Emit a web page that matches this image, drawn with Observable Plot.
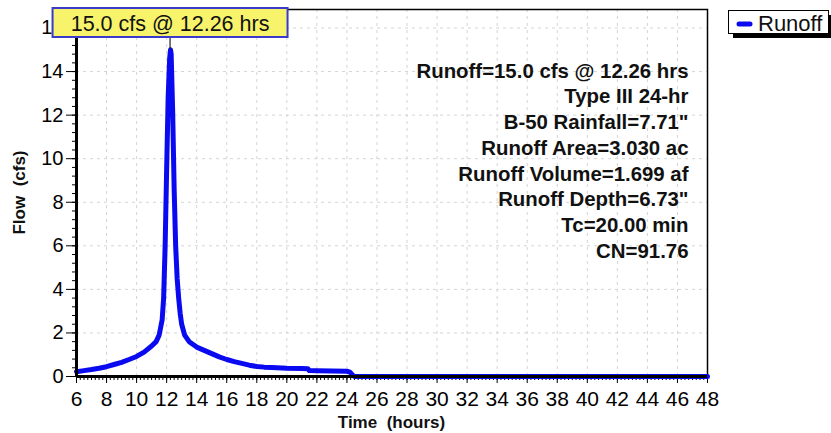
<!DOCTYPE html>
<html>
<head>
<meta charset="utf-8">
<script src="https://cdn.jsdelivr.net/npm/d3@7"></script>
<script src="https://cdn.jsdelivr.net/npm/@observablehq/plot@0.6"></script>
<style>
  body { margin: 0; background: white; }
  #chart svg { display: block; }
</style>
</head>
<body>
<div id="chart"></div>
<script>
// ---- data ----
const timeHrs = [6,6.5,7,7.5,8,8.5,9,9.5,10,10.5,11,11.3,11.5,11.7,11.8,11.9,12.0,12.1,12.2,12.26,12.3,12.4,12.5,12.6,12.7,12.8,12.9,13.0,13.2,13.5,14,14.5,15,15.5,16,16.5,17,17.5,18,18.5,19,20,21,21.4,21.5,22,23,24,24.2,24.4,24.5,30,36,42,48];
const flowCfs = [0.22,0.27,0.32,0.38,0.45,0.55,0.65,0.78,0.92,1.12,1.4,1.6,1.9,2.6,3.6,6.0,9.5,12.8,14.6,15.0,14.8,12.2,8.6,6.0,4.5,3.6,2.9,2.4,1.9,1.6,1.35,1.2,1.05,0.9,0.78,0.68,0.6,0.52,0.46,0.43,0.41,0.38,0.37,0.36,0.27,0.26,0.25,0.24,0.2,0.05,0,0,0,0,0];
const xTicks = [6,8,10,12,14,16,18,20,22,24,26,28,30,32,34,36,38,40,42,44,46,48];
const yTicks = [0,2,4,6,8,10,12,14,16];
const xDomain = [6, 48];
const yDomain = [0, 16.85];
const peakTime = 12.26;
const peakFlow = 15.0;
const peakLabel = "15.0 cfs @ 12.26 hrs";
const statsLines = [
  "Runoff=15.0 cfs @ 12.26 hrs",
  "Type III 24-hr",
  "B-50 Rainfall=7.71\"",
  "Runoff Area=3.030 ac",
  "Runoff Volume=1.699 af",
  "Runoff Depth=6.73\"",
  "Tc=20.00 min",
  "CN=91.76"
];
const seriesName = "Runoff";
const xTitle = "Time  (hours)";
const yTitle = "Flow  (cfs)";

const data = timeHrs.map((t, i) => ({t, q: flowCfs[i]}));
const minorX = d3.range(6, 48.001, 0.25);
const minorY = d3.range(0, 16.85, 0.4);
const innerX = xTicks.slice(1, -1);
const innerY = yTicks.slice(1);
const blue = "#0a0af0";
const font = "'Liberation Sans', Arial, sans-serif";

const plot = Plot.plot({
  width: 831,
  height: 433,
  marginLeft: 76,
  marginRight: 124,
  marginTop: 9,
  marginBottom: 57,
  style: {fontFamily: font, background: "white", color: "black", overflow: "visible"},
  x: {domain: xDomain, label: null},
  y: {domain: yDomain, label: null},
  marks: [
    Plot.ruleX(innerX, {stroke: "#d4d4d4", strokeDasharray: "3,4"}),
    Plot.ruleY(innerY, {stroke: "#d4d4d4", strokeDasharray: "3,4"}),
    Plot.axisX({ticks: minorX, tickSize: 4, text: null, label: null, strokeWidth: 1}),
    Plot.axisY({ticks: minorY, tickSize: 4, text: null, label: null, strokeWidth: 1}),
    Plot.axisX({ticks: xTicks, tickSize: 7, tickPadding: 8, fontSize: 21, label: null, tickFormat: d => String(d)}),
    Plot.axisY({ticks: yTicks, tickSize: 10, tickPadding: 3, fontSize: 20, label: null, tickFormat: d => String(d)}),
    Plot.frame({stroke: "black", strokeWidth: 1.5}),
    Plot.line(data, {x: "t", y: "q", stroke: blue, strokeWidth: 5, strokeLinejoin: "round", strokeLinecap: "round"}),
    Plot.ruleX([xDomain[0]], {stroke: "black", strokeWidth: 3}),
    Plot.ruleY([yDomain[0]], {stroke: "black", strokeWidth: 3}),
    Plot.text([statsLines.join("\n")], {
      frameAnchor: "top-right", textAnchor: "end", lineAnchor: "top",
      dx: -19, dy: 50, fontSize: 20.4, fontWeight: "bold", lineHeight: 1.26, fill: "#111"
    })
  ]
});

document.getElementById("chart").appendChild(plot);

// ---- annotations derived from scales ----
const sx = plot.scale("x"), sy = plot.scale("y");
const svg = d3.select(plot);
const px = sx.apply(peakTime), py = sy.apply(peakFlow);

// peak connector
svg.append("line")
  .attr("x1", px).attr("x2", px)
  .attr("y1", 37).attr("y2", py)
  .attr("stroke", "#222").attr("stroke-width", 1.2);

// peak label box
const boxW = 235, boxH = 29;
svg.append("rect")
  .attr("x", px - boxW / 2).attr("y", 8)
  .attr("width", boxW).attr("height", boxH)
  .attr("fill", "#f7f46c").attr("stroke", "#3a3acb").attr("stroke-width", 2);
svg.append("text")
  .attr("x", px).attr("y", 30.5)
  .attr("text-anchor", "middle")
  .attr("font-family", font).attr("font-size", 21.5)
  .attr("fill", "#111")
  .text(peakLabel);

// legend
svg.append("rect").attr("x", 733).attr("y", 15).attr("width", 100).attr("height", 23).attr("fill", "black");
svg.append("rect").attr("x", 728.5).attr("y", 10.5).attr("width", 100).attr("height", 23)
  .attr("fill", "white").attr("stroke", "black").attr("stroke-width", 1);
svg.append("line").attr("x1", 739).attr("x2", 750).attr("y1", 24).attr("y2", 24)
  .attr("stroke", blue).attr("stroke-width", 5).attr("stroke-linecap", "round");
svg.append("text").attr("x", 758).attr("y", 30.5)
  .attr("text-anchor", "start")
  .attr("font-family", font).attr("font-size", 22).attr("fill", "#111")
  .text(seriesName);

// axis titles
svg.append("text")
  .attr("x", (sx.apply(xDomain[0]) + sx.apply(xDomain[1])) / 2).attr("y", 428)
  .attr("text-anchor", "middle").attr("font-family", font)
  .attr("font-size", 17).attr("font-weight", "bold").attr("fill", "#111")
  .style("white-space", "pre")
  .text(xTitle);
svg.append("text")
  .attr("transform", `translate(25,${(sy.apply(yDomain[0]) + sy.apply(yDomain[1])) / 2}) rotate(-90)`)
  .attr("text-anchor", "middle").attr("font-family", font)
  .attr("font-size", 17).attr("font-weight", "bold").attr("fill", "#111")
  .style("white-space", "pre")
  .text(yTitle);
</script>
</body>
</html>
